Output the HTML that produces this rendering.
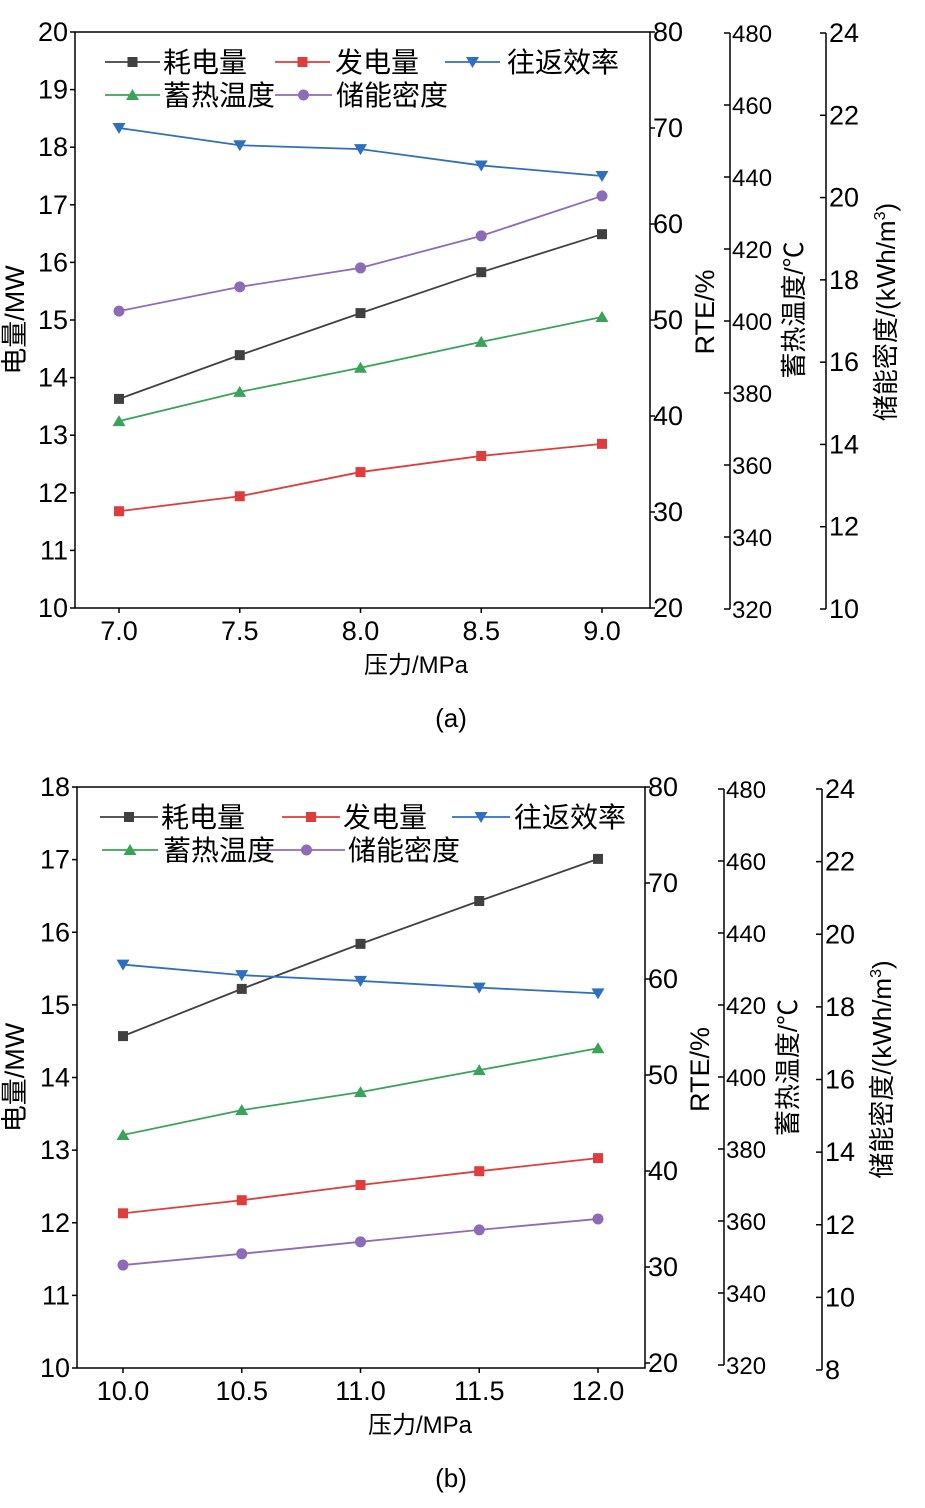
<!DOCTYPE html>
<html><head><meta charset="utf-8"><style>
body{margin:0;background:#fff}
svg{display:block;font-family:"Liberation Sans","Noto Sans CJK SC",sans-serif}
</style></head><body>
<svg id="svg" width="925" height="1508" viewBox="0 0 925 1508"></svg>
<script>
const xTicksA=[7.0,7.5,8.0,8.5,9.0];
const consumeA=[13.63,14.39,15.12,15.83,16.49];
const generateA=[11.68,11.94,12.36,12.64,12.85];
const rteA=[70.0,68.2,67.8,66.1,65.0];
const tempA=[372.2,380.3,387.0,394.2,401.1];
const densityA=[17.24,17.83,18.29,19.07,20.04];
const xTicksB=[10.0,10.5,11.0,11.5,12.0];
const consumeB=[14.57,15.22,15.84,16.43,17.01];
const generateB=[12.13,12.31,12.52,12.71,12.89];
const rteB=[61.5,60.4,59.8,59.1,58.5];
const tempB=[383.9,390.8,395.8,401.9,408.0];
const densityB=[10.89,11.20,11.53,11.86,12.16];
const leftTicksA=[10,11,12,13,14,15,16,17,18,19,20];
const leftTicksB=[10,11,12,13,14,15,16,17,18];
const rteTicks=[20,30,40,50,60,70,80];
const tempTicks=[320,340,360,380,400,420,440,460,480];
const densTicksA=[10,12,14,16,18,20,22,24];
const densTicksB=[8,10,12,14,16,18,20,22,24];

const NS="http://www.w3.org/2000/svg";
const svg=document.getElementById('svg');
function mk(tag,attrs,parent,text){const e=document.createElementNS(NS,tag);for(const k in attrs)e.setAttribute(k,attrs[k]);if(text!==undefined)e.textContent=text;(parent||svg).appendChild(e);return e;}
const C={k:'#404040',r:'#e03c3c',b:'#2e6fbf',g:'#3aa35a',p:'#8e6bb8'};
function marker(g,type,x,y,col){
 if(type==='sq')return mk('rect',{x:x-5,y:y-5,width:10,height:10,fill:col},g);
 if(type==='ci')return mk('circle',{cx:x,cy:y,r:5.5,fill:col},g);
 if(type==='tu')return mk('polygon',{points:`${x},${y-6} ${x-6.5},${y+5} ${x+6.5},${y+5}`,fill:col},g);
 return mk('polygon',{points:`${x},${y+6} ${x-6.5},${y-5} ${x+6.5},${y-5}`,fill:col},g);
}
function chart(o){
 const g=mk('g',{});
 
 
 const sx=v=>o.x0+(v-o.xt[0])/(o.xt[o.xt.length-1]-o.xt[0])*(o.x1-o.x0);
 const lin=(min,max,yb,yt)=>v=>yb-(v-min)/(max-min)*(yb-yt);
 const yL=lin(o.lt[0],o.lt[o.lt.length-1],o.bot,o.top);
 const yR=lin(20,80,o.rb,o.top);
 const yT=lin(320,480,o.tb,o.tt);
 const yD=lin(o.dt[0],o.dt[o.dt.length-1],o.db,o.tt);
 const box=mk('rect',{x:o.L,y:o.top,width:o.R-o.L,height:o.bot-o.top,fill:'none',stroke:'#000','stroke-width':1.5},g);
 
 o.lt.forEach(v=>{const y=yL(v);mk('line',{x1:o.L-5,x2:o.L,y1:y,y2:y,stroke:'#000','stroke-width':1.5},g);
  const t=mk('text',{x:o.L-7,y:y+9,'text-anchor':'end','font-size':27},g,String(v));});
 o.xt.forEach(v=>{const x=sx(v);mk('line',{x1:x,x2:x,y1:o.bot,y2:o.bot+5,stroke:'#000','stroke-width':1.5},g);
  const t=mk('text',{x:x,y:o.bot+32,'text-anchor':'middle','font-size':27},g,v.toFixed(1));});
 rteTicks.forEach(v=>{const y=yR(v);mk('line',{x1:o.R,x2:o.R+5,y1:y,y2:y,stroke:'#000','stroke-width':1.5},g);
  const t=mk('text',{x:o.R+3,y:y+9,'font-size':27},g,String(v));});
 mk('line',{x1:o.TA,x2:o.TA,y1:o.tt,y2:o.tb,stroke:'#000','stroke-width':1.5},g);
 tempTicks.forEach(v=>{const y=yT(v);mk('line',{x1:o.TA-6,x2:o.TA,y1:y,y2:y,stroke:'#000','stroke-width':1.5},g);
  const t=mk('text',{x:o.TA+2,y:y+9,'font-size':24},g,String(v));});
 mk('line',{x1:o.DA,x2:o.DA,y1:o.tt,y2:o.db,stroke:'#000','stroke-width':1.5},g);
 o.dt.forEach(v=>{const y=yD(v);mk('line',{x1:o.DA-6,x2:o.DA,y1:y,y2:y,stroke:'#000','stroke-width':1.5},g);
  const t=mk('text',{x:o.DA+3,y:y+9,'font-size':27},g,String(v));});
 const series=[[o.cons,yL,C.k,'sq','series-consumption'],[o.gen,yL,C.r,'sq','series-generation'],[o.rte,yR,C.b,'td','series-rte'],[o.temp,yT,C.g,'tu','series-storage-temp'],[o.dens,yD,C.p,'ci','series-energy-density']];
 series.forEach(s=>{const sg=mk('g',{},g);
  const pts=s[0].map((v,i)=>sx(o.xt[i])+','+s[1](v)).join(' ');
  mk('polyline',{points:pts,fill:'none',stroke:s[2],'stroke-width':1.8},sg);
  s[0].forEach((v,i)=>{const m=marker(sg,s[3],sx(o.xt[i]),s[1](v),s[2]);});});
 const lg=mk('g',{},g);
 o.leg.forEach(e=>{const eg=mk('g',{},lg);
  mk('line',{x1:e[0],x2:e[1],y1:e[3],y2:e[3],stroke:e[5],'stroke-width':1.8},eg);
  marker(eg,e[6],(e[0]+e[1])/2,e[3],e[5]);
  mk('text',{x:e[2],y:e[3]+10,'font-size':28},eg,e[4]);});
 const at=(x,y,txt,name,size,rot)=>{const t=mk('text',{x:x,y:y,'text-anchor':'middle','font-size':size,transform:rot?`rotate(-90 ${x} ${y})`:''},g,txt);return t;};
 at(24,(o.top+o.bot)/2,'电量/MW','y-axis-title',27,true);
 at(o.R+64,(o.top+o.bot)/2-8,'RTE/%','rte-axis-title',27,true);
 at(o.TA+73,(o.top+o.bot)/2-10,'蓄热温度/℃','temp-axis-title',26,true);
 const d=at(o.DA+69,(o.top+o.bot)/2-8,'','density-axis-title',26,true);
 d.innerHTML='储能密度/(kWh/m<tspan font-size="16" dy="-10">3</tspan><tspan dy="10">)</tspan>';
 at(o.xtx,o.bot+65,'压力/MPa','x-axis-title',24,false);
 at(451,o.bot+119,o.label,'panel-label',26,false);
}
chart({name:'chart-a',label:'(a)',L:75,R:650,top:32,bot:608,rb:608,x0:119,x1:602,xt:xTicksA,lt:leftTicksA,xtx:416,
 TA:730,tt:33,tb:609,DA:826,dt:densTicksA,db:609,
 cons:consumeA,gen:generateA,rte:rteA,temp:tempA,dens:densityA,
 leg:[[105,160,163,62,'耗电量',C.k,'sq'],[275,330,335,62,'发电量',C.r,'sq'],[445,500,507,62,'往返效率',C.b,'td'],[105,160,163,95,'蓄热温度',C.g,'tu'],[275,332,336,95,'储能密度',C.p,'ci']]});
chart({name:'chart-b',label:'(b)',L:77,R:645,top:787,bot:1368,rb:1363,x0:123,x1:598,xt:xTicksB,lt:leftTicksB,xtx:420,
 TA:724,tt:789,tb:1365,DA:822,dt:densTicksB,db:1370,
 cons:consumeB,gen:generateB,rte:rteB,temp:tempB,dens:densityB,
 leg:[[100,158,161,817,'耗电量',C.k,'sq'],[282,340,343,817,'发电量',C.r,'sq'],[452,510,514,817,'往返效率',C.b,'td'],[102,158,163,850,'蓄热温度',C.g,'tu'],[268,345,348,850,'储能密度',C.p,'ci']]});
</script>
</body></html>
